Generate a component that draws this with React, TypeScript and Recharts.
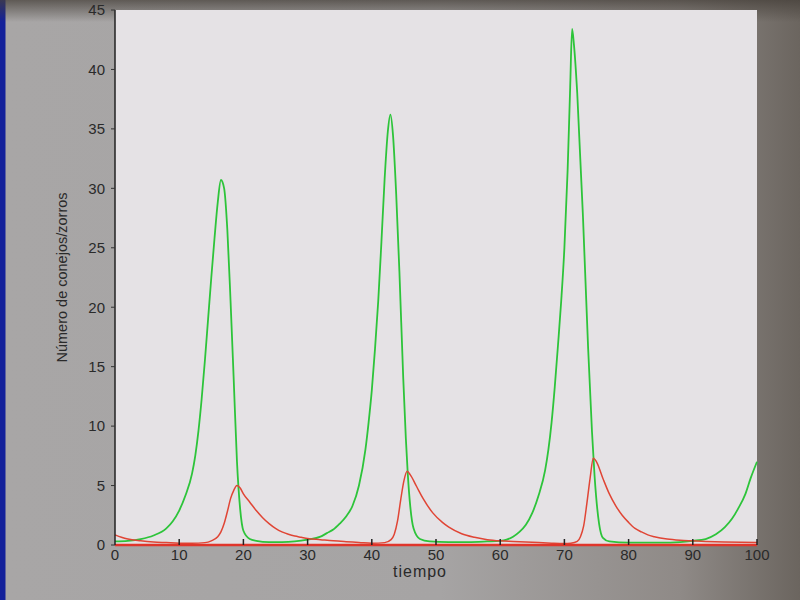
import React from "react";
import { LineChart, Line, XAxis, YAxis, CartesianGrid } from "recharts";

const tConejos = [0, 2, 4, 6, 8, 9, 10, 11, 12, 12.5, 13, 13.5, 14, 14.5, 15, 15.5, 16, 16.5, 17, 17.5, 18, 18.5, 19, 19.5, 20, 21, 22, 24, 26, 28, 30, 32, 33, 34, 35, 36, 37, 38, 39, 39.5, 40, 40.5, 41, 41.5, 42, 42.5, 42.9, 43.3, 43.8, 44.3, 44.9, 45.3, 45.6, 46, 46.5, 47.5, 49, 52, 55, 58, 60, 61, 62, 63, 64, 65, 66, 67, 67.5, 68, 68.5, 69, 69.5, 70, 70.5, 70.9, 71.2, 71.5, 72, 72.9, 73.7, 74.3, 74.7, 75.4, 76, 77, 80, 85, 88, 90, 92, 93.6, 95, 96.1, 97, 98.2, 99, 100];
const conejos = [0.3, 0.35, 0.5, 0.8, 1.4, 2.0, 2.9, 4.2, 6.0, 7.5, 9.6, 12.3, 15.5, 19.0, 22.5, 25.8, 28.8, 30.7, 30.0, 26.5, 20.5, 13.8, 7.0, 3.0, 1.2, 0.5, 0.35, 0.25, 0.25, 0.3, 0.45, 0.7, 1.0, 1.3, 1.8, 2.4, 3.3, 5.0, 8.0, 10.3, 13.0, 16.5, 20.5, 25.5, 30.8, 34.8, 36.2, 34.5, 29.5, 23.0, 14.0, 9.0, 6.0, 3.2, 1.4, 0.5, 0.3, 0.25, 0.25, 0.3, 0.35, 0.45, 0.7, 1.1, 1.7, 2.7, 4.2, 6.3, 8.0, 10.3, 13.3, 16.8, 20.5, 25.0, 31.5, 38.5, 43.4, 42.0, 38.0, 27.5, 16.5, 9.5, 5.8, 1.8, 0.6, 0.3, 0.2, 0.2, 0.25, 0.35, 0.5, 0.9, 1.5, 2.2, 3.0, 4.3, 5.6, 7.0];

const tZorros = [0, 1, 2, 4, 6, 8, 10, 12, 14, 15, 16, 16.5, 17, 17.5, 18, 18.5, 19, 19.5, 20, 21, 22, 23, 24, 25, 26, 27, 28, 29, 30, 32, 34, 36, 38, 40, 42, 43, 43.5, 44, 44.5, 45, 45.5, 46, 47, 48, 49.5, 51, 52, 54, 56, 58, 60, 62, 64, 66, 68, 70, 71, 72, 72.5, 73, 73.5, 74, 74.5, 75, 76, 77, 78, 79, 80, 81, 82, 83, 84, 86, 88, 90, 92, 95, 100];
const zorros = [0.85, 0.65, 0.5, 0.35, 0.25, 0.2, 0.15, 0.15, 0.2, 0.35, 0.7, 1.1, 1.8, 2.8, 3.9, 4.6, 5.0, 4.8, 4.3, 3.6, 2.9, 2.3, 1.8, 1.4, 1.1, 0.9, 0.75, 0.65, 0.55, 0.45, 0.35, 0.28, 0.22, 0.15, 0.2, 0.45, 0.9, 2.0, 3.8, 5.4, 6.2, 5.9, 4.9, 3.9, 2.7, 1.9, 1.5, 0.95, 0.65, 0.45, 0.35, 0.3, 0.25, 0.2, 0.15, 0.12, 0.15, 0.3, 0.7, 1.6, 3.5, 5.6, 7.3, 7.0, 5.6, 4.3, 3.3, 2.5, 1.9, 1.4, 1.1, 0.85, 0.7, 0.5, 0.4, 0.35, 0.3, 0.25, 0.2];

const xTicks = [0, 10, 20, 30, 40, 50, 60, 70, 80, 90, 100];
const yTicks = [0, 5, 10, 15, 20, 25, 30, 35, 40, 45];

const conejosData = tConejos.map((t, i) => ({ t, v: conejos[i] }));
const zorrosData = tZorros.map((t, i) => ({ t, v: zorros[i] }));

const FONT = "'Liberation Sans', Arial, sans-serif";
const X_MARGIN = 4;

const XTick = (props: any) => {
  const { x, y, payload } = props;
  const axisY = y - X_MARGIN;
  return (
    <g>
      {payload.value !== 0 && (
        <line x1={x} y1={axisY} x2={x} y2={axisY - 6} stroke="#222" strokeWidth={1.5} />
      )}
      <text x={x} y={y} dy={11} textAnchor="middle" fill="#2a2a2a" fontSize={15} fontFamily={FONT}>
        {payload.value}
      </text>
    </g>
  );
};

const YLabel = (props: any) => {
  const vb = props.viewBox;
  const cx = vb.x + 7;
  const cy = vb.y + vb.height / 2;
  return (
    <text x={cx} y={cy} transform={`rotate(-90 ${cx} ${cy})`} textAnchor="middle" dominantBaseline="central" fill="#2a2a2a" fontSize={14.5} fontFamily={FONT}>
      Número de conejos/zorros
    </text>
  );
};

const XLabel = (props: any) => {
  const vb = props.viewBox;
  const cx = vb.x + vb.width / 2 - 16;
  return (
    <text x={cx} y={577} textAnchor="middle" fill="#2a2a2a" fontSize={16} letterSpacing={1} fontFamily={FONT}>
      tiempo
    </text>
  );
};

export default function App() {
  return (
    <div
      style={{
        position: "absolute",
        left: 0,
        top: 0,
        width: 800,
        height: 600,
        background:
          "linear-gradient(to bottom, rgba(70,64,58,0.75) 0px, rgba(70,64,58,0) 22px), linear-gradient(to right, #13209a 0px, #13209a 5px, #a8a6a6 6px, #a6a4a4 55%, #8f8a87 85%, #6b655f 100%)",
      }}
    >
      <LineChart width={800} height={600} margin={{ top: 10, right: 43, bottom: 25, left: 55 }}>
        <CartesianGrid horizontal={false} vertical={false} fill="#e5e2e5" stroke="none" />
        <XAxis
          dataKey="t"
          type="number"
          domain={[0, 100]}
          ticks={xTicks}
          height={30}
          tickSize={0}
          tickMargin={X_MARGIN}
          tick={<XTick />}
          axisLine={{ stroke: "#e0352b", strokeWidth: 2.5 }}
          allowDuplicatedCategory={false}
          label={<XLabel />}
        />
        <YAxis
          type="number"
          domain={[0, 45]}
          ticks={yTicks}
          width={60}
          tickSize={4}
          tickMargin={6}
          tick={{ fill: "#2a2a2a", fontSize: 15, fontFamily: FONT }}
          tickLine={{ stroke: "#333" }}
          axisLine={{ stroke: "#222", strokeWidth: 1.5 }}
          label={<YLabel />}
        />
        <Line
          data={conejosData}
          dataKey="v"
          type="monotone"
          stroke="#2dc43a"
          strokeWidth={1.8}
          dot={false}
          isAnimationActive={false}
        />
        <Line
          data={zorrosData}
          dataKey="v"
          type="monotone"
          stroke="#e04535"
          strokeWidth={1.5}
          dot={false}
          isAnimationActive={false}
        />
      </LineChart>
    </div>
  );
}
